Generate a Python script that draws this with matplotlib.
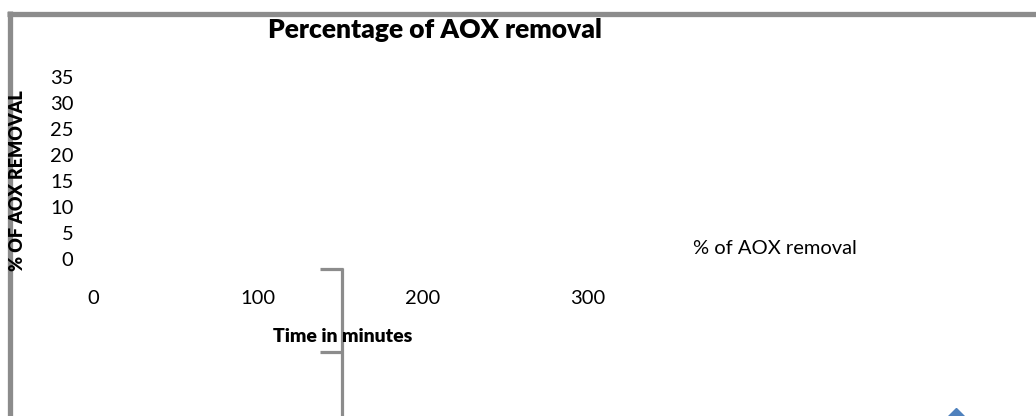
import matplotlib
matplotlib.use("Agg")
import matplotlib.pyplot as plt
from matplotlib.lines import Line2D

plt.rcParams['font.family'] = ['Lato', 'DejaVu Sans']

# chart values
time_ticks = [0, 100, 200, 300]
removal_ticks = [0, 5, 10, 15, 20, 25, 30, 35]
series_name = "% of AOX removal"
time_min = [523]
removal_pct = [-31.7]

W, H = 1036, 416
fig = plt.figure(figsize=(W / 100, H / 100), dpi=100)
fig.patch.set_facecolor("white")

# plot area
ax = fig.add_axes([93 / W, (H - 259) / H, (588 - 93) / W, 182 / H])
ax.set_xlim(0, 300)
ax.set_ylim(0, 35)
ax.set_xticks(time_ticks)
ax.set_yticks(removal_ticks)
for s in ax.spines.values():
    s.set_visible(False)
ax.tick_params(axis="y", length=0, pad=14, labelsize=14.5)
ax.tick_params(axis="x", length=0, pad=22, labelsize=14.5)
ax.patch.set_alpha(0)

ax.plot(time_min, removal_pct, linestyle="none", marker="D", markersize=16,
        color="#4F81BD", clip_on=False, zorder=5)

# titles and labels
fig.text(435 / W, 1 - 30 / H, "Percentage of AOX removal", ha="center",
         va="center", fontsize=19, fontweight="heavy")
fig.text(18 / W, 1 - 181 / H, "% OF AOX REMOVAL", rotation=90, ha="center",
         va="center", fontsize=13, fontweight="heavy")
fig.text(343 / W, 1 - 336 / H, "Time in minutes", ha="center", va="center",
         fontsize=14, fontweight="heavy")
fig.text(693 / W, 1 - 249 / H, series_name, ha="left", va="center",
         fontsize=14.5)

# chart frame and stray connector lines, in pixel space
ov = fig.add_axes([0, 0, 1, 1], zorder=-1)
ov.set_xlim(0, W)
ov.set_ylim(H, 0)
ov.axis("off")
grey = "#8c8c8c"
ov.add_line(Line2D([9.5, 9.5], [11, H + 5], lw=3.8, color=grey, solid_capstyle="butt"))
ov.add_line(Line2D([7, W + 5], [13.5, 13.5], lw=3.8, color=grey, solid_capstyle="butt"))
ov.add_line(Line2D([320, 342.5], [268.5, 268.5], lw=2.3, color=grey, solid_capstyle="butt"))
ov.add_line(Line2D([341.5, 341.5], [267.5, H + 5], lw=2.3, color=grey, solid_capstyle="butt"))
ov.add_line(Line2D([320, 341.5], [352, 352], lw=2.3, color=grey, solid_capstyle="butt"))

fig.savefig("out.png", dpi=100)
